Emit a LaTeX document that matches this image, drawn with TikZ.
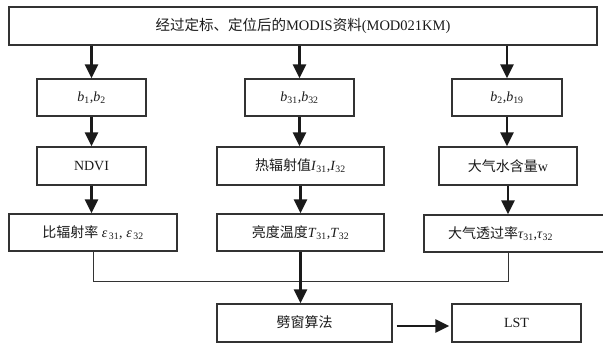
\documentclass[tikz,border=0pt]{standalone}
\usepackage{fontspec}
\setmainfont{Liberation Serif}
\newfontfamily\cjk{Noto Sans CJK SC}
\usetikzlibrary{arrows.meta}
\definecolor{edge}{HTML}{333333}
\definecolor{ink}{HTML}{1A1A1A}
\newcommand{\vsym}[2]{\textit{#1}\textsubscript{#2}}
\begin{document}
\begin{tikzpicture}[x=1pt,y=-1pt,
  box/.style={draw=edge, line width=1.3pt, minimum height=37pt, inner sep=0pt,
    font=\fontsize{14}{16}\selectfont, text=ink},
  arr/.style={draw=ink, line width=2.6pt, -{Triangle[width=13pt,length=14pt]}},
  conn/.style={draw=edge, line width=1pt}]
\useasboundingbox (0,0) rectangle (603,345);
\node[box, minimum width=588pt, minimum height=38pt, font=\fontsize{14.5}{16}\selectfont] (top) at (303,26)
  {{\cjk 经过定标、定位后的}MODIS{\cjk 资料}(MOD021KM)};
\node[box, minimum width=109pt] (b12) at (91.5,97.5) {\vsym{b}{1},\vsym{b}{2}};
\node[box, minimum width=109pt] (b3132) at (299.5,97.5) {\vsym{b}{31},\vsym{b}{32}};
\node[box, minimum width=110pt] (b219) at (507,97.5) {\vsym{b}{2},\vsym{b}{19}};
\node[box, minimum width=109pt, minimum height=38pt] (ndvi) at (91.5,166) {NDVI};
\node[box, minimum width=167pt, minimum height=38pt] (heat) at (300.5,166) {{\cjk 热辐射值}\vsym{I}{31},\vsym{I}{32}};
\node[box, minimum width=138pt, minimum height=38pt] (water) at (508,166) {{\cjk 大气水含量}w};
\node[box, minimum width=168pt] (emis) at (93,232.5) {{\cjk 比辐射率} \vsym{ε}{\,31}, \vsym{ε}{\,32}};
\node[box, minimum width=167pt] (bright) at (300.5,232.5) {{\cjk 亮度温度}\vsym{T}{31},\vsym{T}{32}};
\node[box, minimum width=184pt, text width=184pt, align=left] (trans) at (516,233.5) {\hspace{24pt}{\cjk 大气透过率}\vsym{τ}{31},\vsym{τ}{32}};
\node[box, minimum width=175pt, minimum height=38pt] (split) at (304.5,323) {\raisebox{2pt}{\cjk 劈窗算法}};
\node[box, minimum width=129pt, minimum height=38pt] (lst) at (516.5,323) {\raisebox{-4pt}{LST}};
\draw[arr] (top.south -| b12.north) -- (b12.north);
\draw[arr] (top.south -| b3132.north) -- (b3132.north);
\draw[arr] (top.south -| b219.north) -- (b219.north);
\draw[arr] (b12.south) -- (b12.south |- ndvi.north);
\draw[arr] (b3132.south) -- (b3132.south |- heat.north);
\draw[arr] (b219.south) -- (b219.south |- water.north);
\draw[arr] (ndvi.south) -- (ndvi.south |- emis.north);
\draw[arr] (heat.south) -- (heat.south |- bright.north);
\draw[arr] (water.south) -- (water.south |- trans.north);
\coordinate (junc) at (0,281);
\draw[conn] (emis.south) -- (emis.south |- junc) -- (water.south |- junc) -- (water.south |- trans.south);
\draw[arr] (bright.south) -- (bright.south |- split.north);
\draw[arr] ([xshift=4pt,yshift=-3pt]split.east) -- ([xshift=-2pt,yshift=-3pt]lst.west);
\end{tikzpicture}
\end{document}
